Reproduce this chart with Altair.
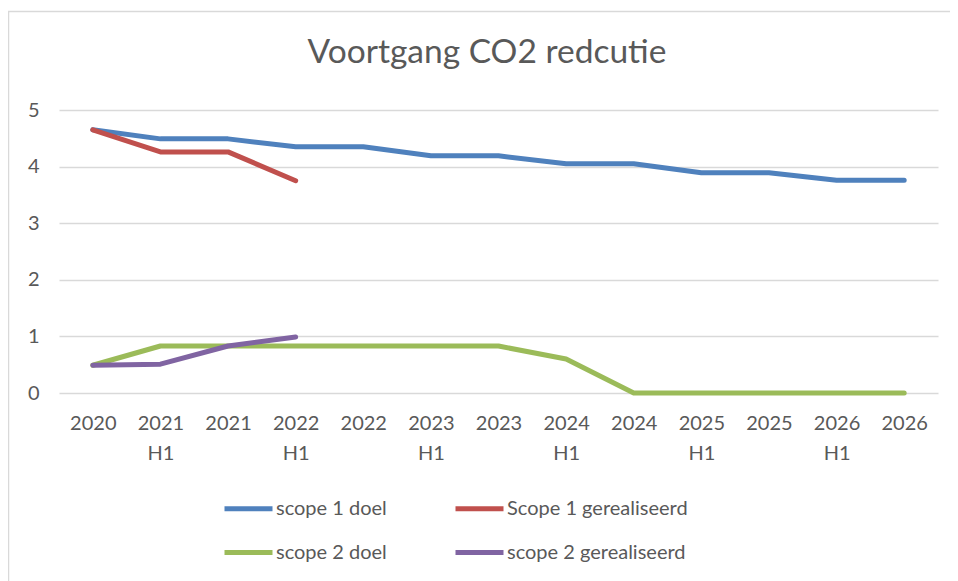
import altair as alt
import pandas as pd

categories = ["2020", "2021\nH1", "2021", "2022\nH1", "2022", "2023\nH1", "2023",
              "2024\nH1", "2024", "2025\nH1", "2025", "2026\nH1", "2026"]
scope1_doel = [4.65, 4.49, 4.49, 4.35, 4.35, 4.19, 4.19, 4.05, 4.05, 3.89, 3.89, 3.76, 3.76]
scope1_real = [4.65, 4.26, 4.26, 3.75]
scope2_doel = [0.49, 0.83, 0.83, 0.83, 0.83, 0.83, 0.83, 0.60, 0.0, 0.0, 0.0, 0.0, 0.0]
scope2_real = [0.49, 0.51, 0.83, 0.99]

series_names = ["scope 1 doel", "Scope 1 gerealiseerd", "scope 2 doel", "scope 2 gerealiseerd"]
series_values = [scope1_doel, scope1_real, scope2_doel, scope2_real]
colors = ["#4F81BD", "#C0504D", "#9BBB59", "#8064A2"]
# legend fills column by column
legend_order = ["scope 1 doel", "scope 2 doel", "Scope 1 gerealiseerd", "scope 2 gerealiseerd"]
legend_colors = [colors[series_names.index(s)] for s in legend_order]

title_text = "Voortgang CO2 redcutie"

rows = []
for name, vals in zip(series_names, series_values):
    for i, v in enumerate(vals):
        rows.append({"cat": categories[i], "value": v, "series": name, "idx": i})
df = pd.DataFrame(rows)

FONT = "Lato"
TXT = "#595959"
GRID = "#D9D9D9"

W, H = 879, 283

frame = alt.Chart(pd.DataFrame({"a": [0]})).mark_rect(
    fill=None, stroke=GRID, strokeWidth=1.5
).encode(
    x=alt.value(-50.5), x2=alt.value(W + 100),
    y=alt.value(-98.5), y2=alt.value(H + 300)
)

title = alt.Chart(pd.DataFrame({"t": [title_text]})).mark_text(
    font=FONT, fontSize=33.5, color=TXT, align="center", baseline="alphabetic"
).encode(
    text="t:N", x=alt.value(428), y=alt.value(-47)
)

lines = alt.Chart(df).mark_line(strokeWidth=5, strokeCap="round", strokeJoin="round").encode(
    x=alt.X("cat:N", sort=categories, scale=alt.Scale(type="point", padding=0.5),
            axis=alt.Axis(title=None, labelExpr="split(datum.label, '\\n')", labelAngle=0,
                          labelFont=FONT, labelFontSize=20, labelColor=TXT,
                          labelLineHeight=30, labelPadding=20, labelBaseline="top",
                          domain=False, ticks=False, grid=False)),
    y=alt.Y("value:Q", scale=alt.Scale(domain=[0, 5], nice=False),
            axis=alt.Axis(title=None, values=[0, 1, 2, 3, 4, 5], format="d",
                          labelFont=FONT, labelFontSize=20, labelColor=TXT,
                          labelPadding=20, domain=False, ticks=False,
                          grid=True, gridColor=GRID, gridWidth=1.5)),
    color=alt.Color("series:N", sort=legend_order,
                    scale=alt.Scale(domain=legend_order, range=legend_colors),
                    legend=alt.Legend(title=None, orient="none", legendX=163, legendY=372,
                                      columns=2, columnPadding=58, rowPadding=7,
                                      symbolType="stroke", symbolSize=2304,
                                      symbolStrokeWidth=5, labelOffset=1, labelLimit=0,
                                      labelFont=FONT, labelFontSize=20, labelColor=TXT,
                                      padding=0)),
    order=alt.Order("idx:Q"),
    detail="series:N"
)

chart = alt.layer(frame, title, lines).properties(
    width=W, height=H,
    autosize=alt.AutoSizeParams(type="none"),
    padding={"left": 51, "top": 102, "right": 12, "bottom": 188}
).configure_view(stroke=None)

chart.save("out.html", embed_options={"renderer": "svg", "actions": False})
